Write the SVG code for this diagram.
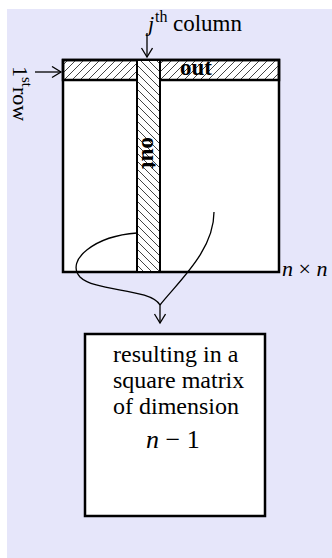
<svg xmlns="http://www.w3.org/2000/svg" width="332" height="558" viewBox="0 0 332 558">
<style>
.t{font-family:"Liberation Serif","Times New Roman",serif;fill:#000}
.box{fill:#fff;stroke:#000;stroke-width:2.5}
.ln{fill:none;stroke:#000;stroke-width:1.3}
</style>
<defs>
<pattern id="hatchR" patternUnits="userSpaceOnUse" width="8" height="8">
<path d="M-2,2 L2,-2 M0,8 L8,0 M6,10 L10,6" stroke="#444" stroke-width="1"/>
</pattern>
<pattern id="hatchL" patternUnits="userSpaceOnUse" width="8" height="8">
<path d="M-2,6 L2,10 M0,0 L8,8 M6,-2 L10,2" stroke="#444" stroke-width="1"/>
</pattern>
<marker id="arr" markerWidth="14" markerHeight="14" refX="10" refY="6" orient="auto" markerUnits="userSpaceOnUse">
<path d="M1,0.5 L10,6 L1,11.5" fill="none" stroke="#000" stroke-width="1.3"/>
</marker>
</defs>
<rect x="7" y="9" width="325" height="549" fill="#E6E6FA"/>
<g id="matrix">
<rect class="box" x="63" y="60" width="216" height="212"/>
<rect x="63" y="60" width="216" height="20" fill="url(#hatchR)" stroke="#000" stroke-width="2.5"/>
<text class="t" x="180" y="75" font-size="23" font-weight="bold">out</text>
<rect x="137" y="60" width="23" height="212" fill="#fff" stroke="#000" stroke-width="2"/>
<rect x="137" y="60" width="23" height="212" fill="url(#hatchL)" stroke="#000" stroke-width="2"/>
<text class="t" transform="translate(142,153) rotate(90)" text-anchor="middle" font-size="23" font-weight="bold">out</text>
<text class="t" x="282" y="276" font-size="22"><tspan font-style="italic">n</tspan> × <tspan font-style="italic">n</tspan></text>
</g>
<g id="row-label">
<text class="t" transform="translate(13,66) rotate(90)" font-size="22">1<tspan font-size="15" dy="-9">st</tspan><tspan dy="9">row</tspan></text>
</g>
<g id="col-label">
<text class="t" font-size="22"><tspan x="148" y="31" font-style="italic">j</tspan><tspan x="155" y="22" font-size="16">th</tspan><tspan x="173" y="31" font-size="23">column</tspan></text>
</g>
<g id="result">
<rect class="box" x="85" y="334" width="180" height="182"/>
<text class="t" font-size="24"><tspan x="113" y="362">resulting in a</tspan><tspan x="113" y="388">square matrix</tspan><tspan x="113" y="414">of dimension</tspan></text>
<text class="t" x="146" y="448" font-size="26"><tspan font-style="italic">n</tspan> − 1</text>
</g>
<g id="connectors">
<line class="ln" x1="35" y1="72" x2="61" y2="72" marker-end="url(#arr)"/>
<line class="ln" x1="147" y1="33" x2="147" y2="57" marker-end="url(#arr)"/>
<path class="ln" d="M137,233 C95,236 65,260 80,277 C95,292 150,288 160,305"/>
<path class="ln" d="M214,212 C214,250 180,280 160,305"/>
<line class="ln" x1="160" y1="305" x2="160" y2="323" marker-end="url(#arr)"/>
</g>
</svg>
